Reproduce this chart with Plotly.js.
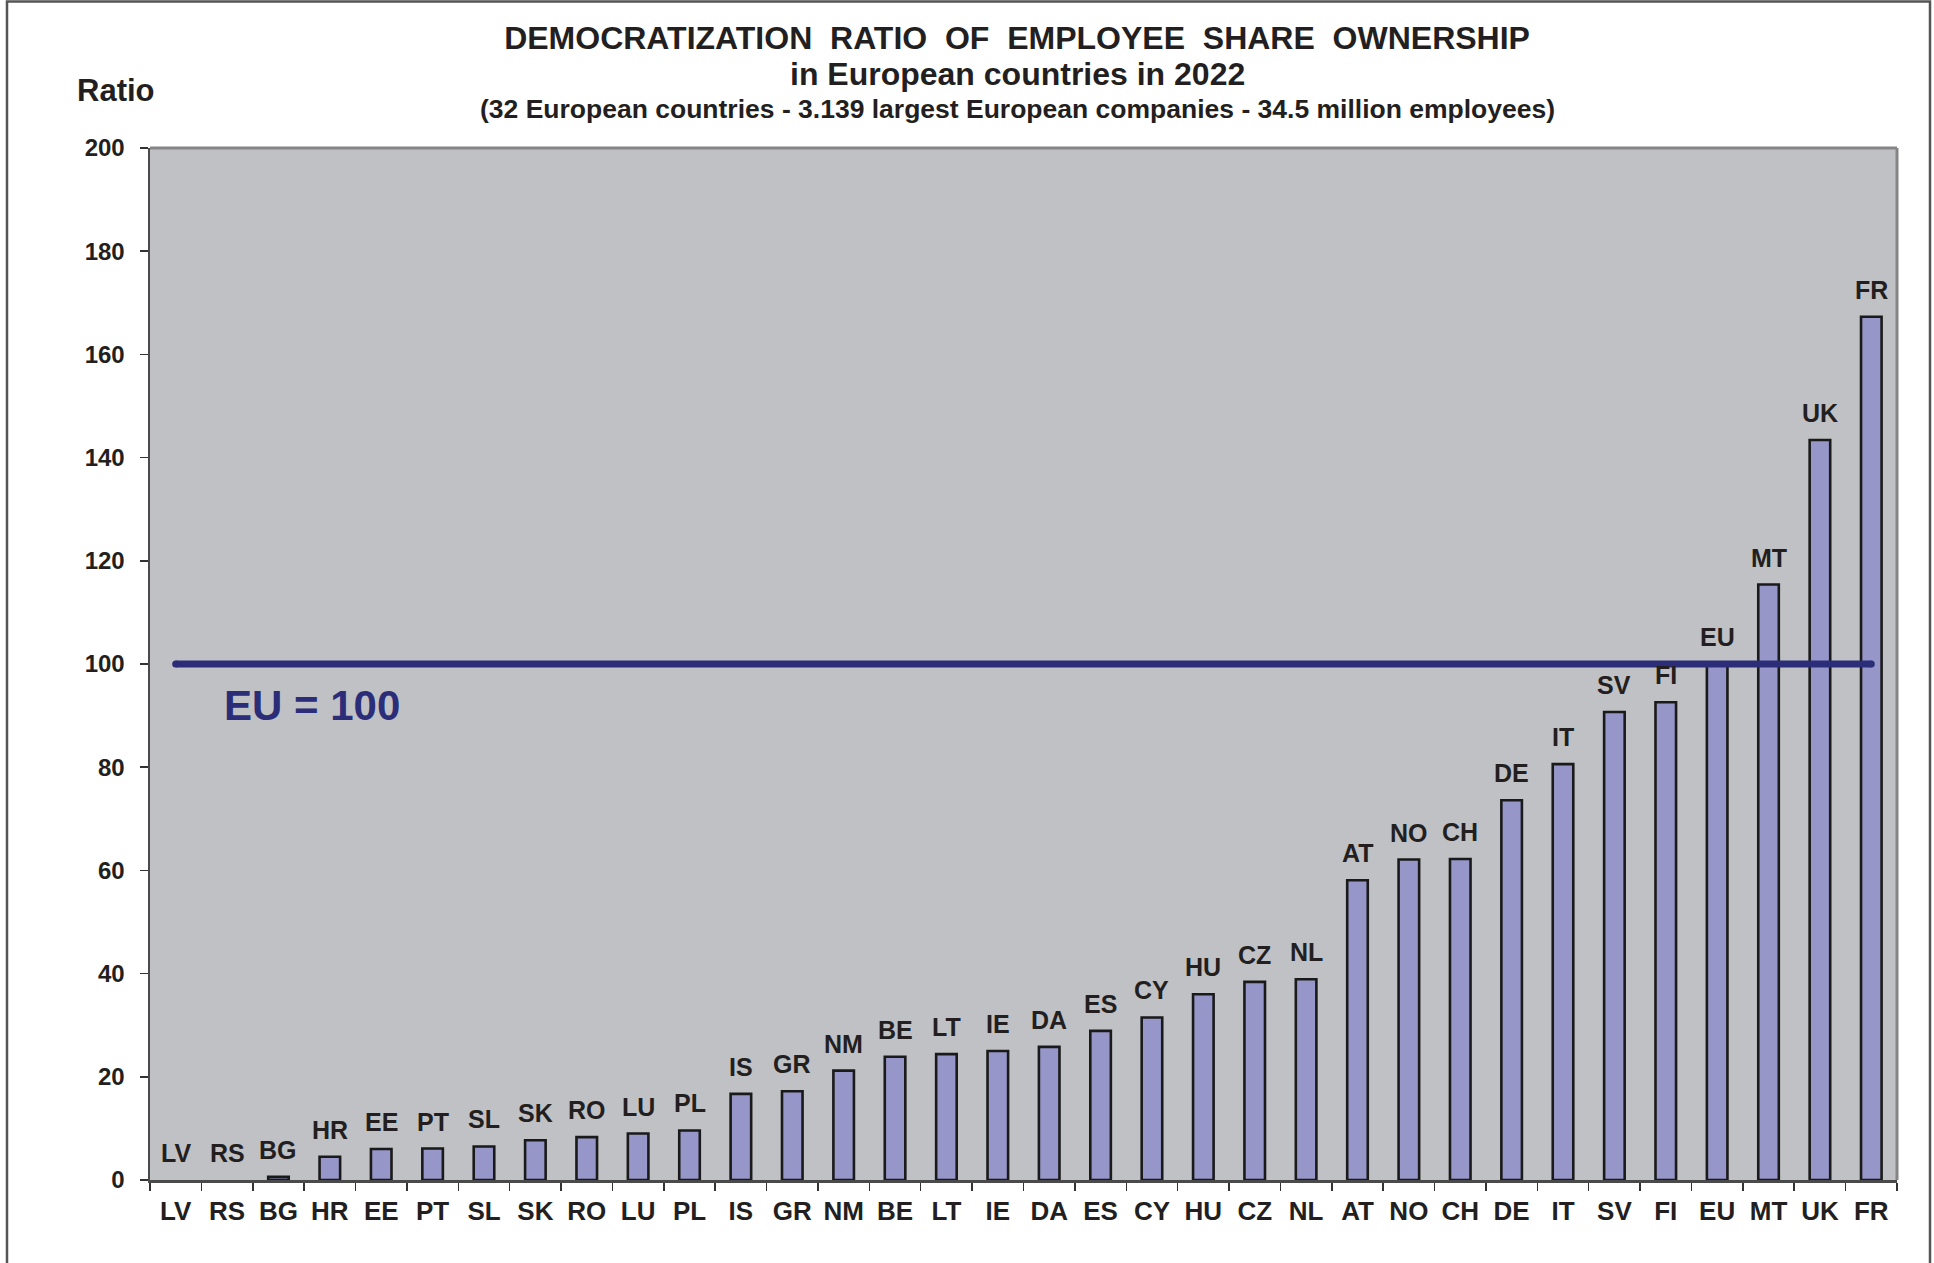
<!DOCTYPE html>
<html>
<head>
<meta charset="utf-8">
<script src="https://cdn.plot.ly/plotly-3.0.1.min.js"></script>
<style>
  html, body { margin: 0; padding: 0; background: #ffffff; }
  #chart { width: 1934px; height: 1263px; }
</style>
</head>
<body>
<div id="chart"></div>
<script>
// ---- Data ----
const countries = ["LV","RS","BG","HR","EE","PT","SL","SK","RO","LU","PL","IS","GR","NM","BE","LT","IE","DA","ES","CY","HU","CZ","NL","AT","NO","CH","DE","IT","SV","FI","EU","MT","UK","FR"];
const ratios = [0, 0, 0.6, 4.5, 6.0, 6.1, 6.5, 7.7, 8.3, 9.0, 9.6, 16.7, 17.2, 21.2, 23.9, 24.4, 25.0, 25.8, 28.9, 31.5, 36.0, 38.4, 38.9, 58.1, 62.1, 62.2, 73.6, 80.6, 90.7, 92.6, 100, 115.4, 143.4, 167.3];
const euReference = 100;
const yTicks = [0, 20, 40, 60, 80, 100, 120, 140, 160, 180, 200];

const titleLine1 = "DEMOCRATIZATION\u00a0\u00a0RATIO\u00a0\u00a0OF\u00a0\u00a0EMPLOYEE\u00a0\u00a0SHARE\u00a0\u00a0OWNERSHIP";
const titleLine2 = "in European countries in 2022";
const titleLine3 = "(32 European countries - 3.139 largest European companies - 34.5 million employees)";
const yLabel = "Ratio";
const euLabel = "EU = 100";

// ---- Styling ----
const FONT = "Liberation Sans, Arial, Helvetica, sans-serif";
const TXT = "#231f20";
const NAVY = "#2b2d78";

const bars = {
  type: "bar",
  x: countries,
  y: ratios,
  width: 0.4,
  marker: {
    color: "#9696c9",
    line: { color: "#1a1a1a", width: ratios.map(v => (v > 0 ? 2.6 : 0)) }
  },
  hoverinfo: "x+y",
  showlegend: false
};

const euLine = {
  type: "scatter",
  mode: "lines+markers",
  x: [countries[0], countries[countries.length - 1]],
  y: [euReference, euReference],
  line: { color: NAVY, width: 7 },
  marker: { color: NAVY, size: 7, line: { width: 0 } },
  hoverinfo: "skip",
  showlegend: false
};

const barLabels = countries.map((c, i) => ({
  x: c, y: ratios[i], xref: "x", yref: "y",
  text: c, showarrow: false,
  xanchor: "center", yanchor: "bottom", yshift: 11,
  font: { family: FONT, size: 25, color: TXT, weight: "bold" }
}));

const layout = {
  width: 1934,
  height: 1263,
  margin: { l: 150, r: 37, t: 148, b: 83, pad: 0 },
  paper_bgcolor: "#ffffff",
  plot_bgcolor: "#c0c1c5",
  font: { family: FONT, color: TXT },
  title: {
    text: titleLine1,
    x: 0.4963, xref: "paper", xanchor: "center",
    y: 1 - 38 / 1263, yref: "container", yanchor: "middle",
    font: { family: FONT, size: 32, color: TXT, weight: "bold" }
  },
  xaxis: {
    type: "category",
    categoryorder: "array",
    categoryarray: countries,
    range: [-0.5, countries.length - 0.5],
    tickson: "boundaries",
    ticks: "outside", ticklen: 8, tickwidth: 1.5, tickcolor: "#333333",
    showline: true, linecolor: "#4a4a4a", linewidth: 2.5,
    showgrid: false, zeroline: false,
    tickfont: { family: FONT, size: 26, color: TXT, weight: "bold" },
    ticklabelstandoff: 6,
    fixedrange: true
  },
  yaxis: {
    range: [0, 200],
    tickvals: yTicks,
    ticks: "outside", ticklen: 8, tickwidth: 1.5, tickcolor: "#333333",
    showline: true, linecolor: "#4a4a4a", linewidth: 2.5,
    showgrid: false, zeroline: false,
    tickfont: { family: FONT, size: 24, color: TXT, weight: "bold" },
    ticklabelstandoff: 10,
    fixedrange: true
  },
  xaxis2: {
    overlaying: "x", range: [-0.5, countries.length - 0.5],
    tick0: -0.5, dtick: 1, ticks: "inside", ticklen: 8, tickwidth: 1.5, tickcolor: "#333333",
    showticklabels: false, showgrid: false, zeroline: false, showline: false, anchor: "y"
  },
  yaxis2: {
    overlaying: "y", range: [0, 200], tickvals: yTicks,
    ticks: "inside", ticklen: 8, tickwidth: 1.5, tickcolor: "#333333",
    showticklabels: false, showgrid: false, zeroline: false, showline: false, anchor: "x", side: "left"
  },
  shapes: [
    { type: "line", xref: "paper", yref: "paper", x0: 0, x1: 1, y0: 1, y1: 1, line: { color: "#858585", width: 3 } },
    { type: "line", xref: "paper", yref: "paper", x0: 1, x1: 1, y0: 0, y1: 1, line: { color: "#858585", width: 3 } },
    { type: "rect", xref: "paper", yref: "paper",
      x0: (7 - 150) / 1747, x1: (1930 - 150) / 1747,
      y0: (1180 - 1285) / 1032, y1: (1180 - 1.5) / 1032,
      line: { color: "#555555", width: 2.5 }, fillcolor: "rgba(0,0,0,0)" }
  ],
  annotations: [
    { text: titleLine2, xref: "paper", yref: "paper", x: 0.4963, y: (1180 - 74) / 1032,
      xanchor: "center", yanchor: "middle", showarrow: false,
      font: { family: FONT, size: 32, color: TXT, weight: "bold" } },
    { text: titleLine3, xref: "paper", yref: "paper", x: 0.4963, y: (1180 - 108.5) / 1032,
      xanchor: "center", yanchor: "middle", showarrow: false,
      font: { family: FONT, size: 26.5, color: TXT, weight: "bold" } },
    { text: yLabel, xref: "paper", yref: "paper", x: (116 - 150) / 1747, y: (1180 - 91) / 1032,
      xanchor: "center", yanchor: "middle", showarrow: false,
      font: { family: FONT, size: 31, color: TXT, weight: "bold" } },
    { text: euLabel, xref: "paper", yref: "paper", x: (311.5 - 150) / 1747, y: (1180 - 705) / 1032,
      xanchor: "center", yanchor: "middle", showarrow: false,
      font: { family: FONT, size: 42, color: NAVY, weight: "bold" } }
  ].concat(barLabels),
  bargap: 0.6
};

Plotly.newPlot("chart", [bars, euLine], layout, { displayModeBar: false, staticPlot: true });
</script>
</body>
</html>
